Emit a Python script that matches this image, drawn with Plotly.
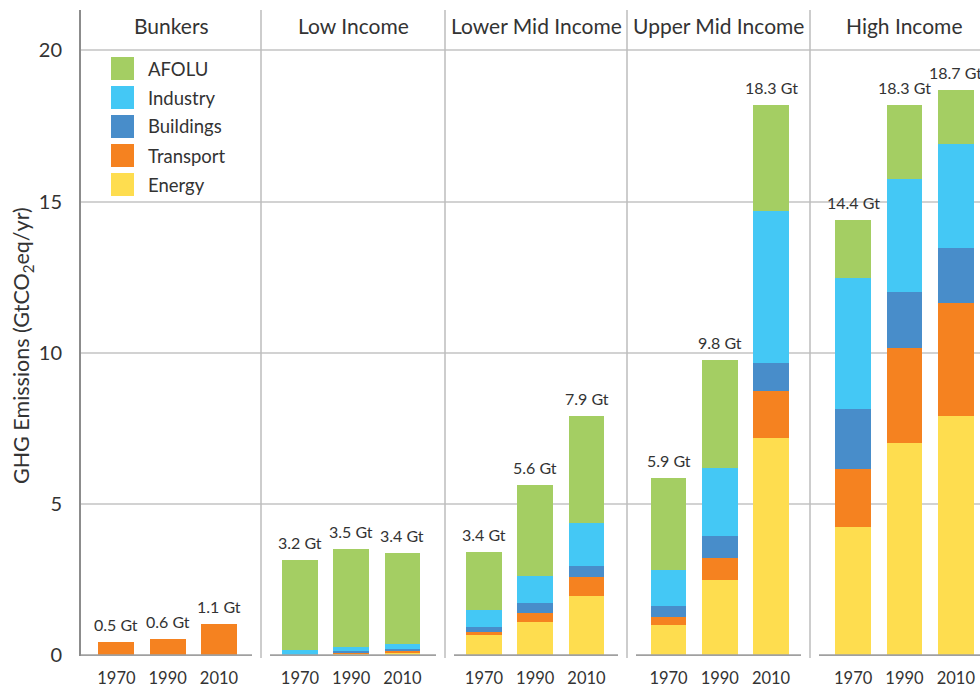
import plotly.graph_objects as go

# ---------------- data ----------------
panels = ["Bunkers", "Low Income", "Lower Mid Income", "Upper Mid Income", "High Income"]
years = ["1970", "1990", "2010"]

# values per panel (GtCO2eq/yr), each inner list = 1970, 1990, 2010
energy    = [[0.00, 0.00, 0.00], [0.02, 0.06, 0.09], [0.69, 1.12, 1.98], [1.00, 2.50, 7.19], [4.24, 7.01, 7.90]]
transport = [[0.43, 0.53, 1.03], [0.00, 0.03, 0.07], [0.10, 0.30, 0.63], [0.27, 0.72, 1.54], [1.92, 3.16, 3.76]]
buildings = [[0.00, 0.00, 0.00], [0.00, 0.05, 0.05], [0.14, 0.30, 0.36], [0.37, 0.73, 0.95], [2.00, 1.85, 1.79]]
industry  = [[0.00, 0.00, 0.00], [0.15, 0.15, 0.17], [0.56, 0.92, 1.41], [1.19, 2.23, 5.01], [4.31, 3.73, 3.46]]
afolu     = [[0.00, 0.00, 0.00], [3.00, 3.23, 3.02], [1.94, 2.98, 3.55], [3.02, 3.60, 3.50], [1.93, 2.44, 1.78]]

total_labels = [["0.5 Gt", "0.6 Gt", "1.1 Gt"],
                ["3.2 Gt", "3.5 Gt", "3.4 Gt"],
                ["3.4 Gt", "5.6 Gt", "7.9 Gt"],
                ["5.9 Gt", "9.8 Gt", "18.3 Gt"],
                ["14.4 Gt", "18.3 Gt", "18.7 Gt"]]

sector_names = ["Energy", "Transport", "Buildings", "Industry", "AFOLU"]   # bottom -> top
sector_values = [energy, transport, buildings, industry, afolu]
legend_names = ["AFOLU", "Industry", "Buildings", "Transport", "Energy"]  # top -> bottom
y_ticks = [0, 5, 10, 15, 20]
y_title = "GHG Emissions (GtCO<sub>2</sub>eq/yr)"

# ---------------- style ----------------
colors = {"AFOLU": "#A4CE63", "Industry": "#44C8F5", "Buildings": "#488DCA",
          "Transport": "#F58220", "Energy": "#FEDD4F"}
FONT = "Lato, 'Open Sans', sans-serif"
TXT = "#333333"

W, H = 980, 688
L, R, T, B = 81, 0, 10, 32
PW, PH = W - L - R, H - T - B


def px2x(px):
    return (px - L) / PW


def px2y(py):
    return (H - B - py) / PH


panel_px = [(81, 261), (261, 445), (445, 627), (627, 810), (810, 980)]
x_ranges = [[-0.69, 2.82], [-0.76, 2.83], [-0.76, 2.79], [-0.81, 2.76], [-0.84, 2.47]]
y_range = [-0.017, 21.33]

fig = go.Figure()

for i, p in enumerate(panels):
    xa = "x" if i == 0 else f"x{i+1}"
    ya = "y" if i == 0 else f"y{i+1}"
    for name, vals in zip(sector_names, sector_values):
        fig.add_trace(go.Bar(
            x=years, y=vals[i], name=name, xaxis=xa, yaxis=ya,
            marker=dict(color=colors[name], line=dict(width=0)),
            width=0.7, showlegend=False, hoverinfo="x+y+name"))

layout = dict(
    width=W, height=H, barmode="stack",
    margin=dict(l=L, r=R, t=T, b=B),
    paper_bgcolor="white", plot_bgcolor="white",
    font=dict(family=FONT, color=TXT),
    showlegend=False,
)

shapes = []
annotations = []

for i, p in enumerate(panels):
    xk = "xaxis" if i == 0 else f"xaxis{i+1}"
    yk = "yaxis" if i == 0 else f"yaxis{i+1}"
    xa = "x" if i == 0 else f"x{i+1}"
    ya = "y" if i == 0 else f"y{i+1}"
    d0, d1 = panel_px[i]
    layout[xk] = dict(
        domain=[px2x(d0), px2x(d1)], anchor=ya, type="category",
        range=x_ranges[i], showgrid=False, zeroline=False, showline=False,
        ticks="", ticklabelstandoff=10,
        tickfont=dict(family=FONT, size=16.5, color=TXT), fixedrange=True)
    layout[yk] = dict(
        domain=[0, 1], anchor=xa, range=y_range,
        tickvals=y_ticks, showgrid=True, gridcolor="#d2d2d2", gridwidth=1.5,
        zeroline=False, showticklabels=(i == 0), ticks="",
        showline=(i == 0), linecolor="#8c8c8c", linewidth=2,
        fixedrange=True)
    if i == 0:
        layout[yk].update(
            ticklabelstandoff=13,
            tickfont=dict(family=FONT, size=20, color=TXT))
    else:
        layout[yk]["matches"] = "y"

    # baseline segment
    width_px = d1 - d0
    x0 = 0 if i == 0 else 9 / width_px
    x1 = 1 - 9 / width_px if i < 4 else 1
    shapes.append(dict(type="line", xref=f"{xa} domain", yref=ya,
                       x0=x0, x1=x1, y0=0, y1=0,
                       line=dict(color="#a0a0a0", width=2.5), layer="above"))

    # panel title
    annotations.append(dict(xref="paper", yref="paper",
                            x=(px2x(d0) + px2x(d1)) / 2 if i < 4 else px2x(904),
                            y=px2y(25), text=p, showarrow=False,
                            xanchor="center", yanchor="middle",
                            font=dict(family=FONT, size=21, color=TXT)))

    # total labels (category axis -> numeric index)
    for j, yr in enumerate(years):
        tot = sum(v[i][j] for v in sector_values)
        annotations.append(dict(xref=xa, yref=ya, x=j, y=tot,
                                text=total_labels[i][j], showarrow=False,
                                xanchor="center", yanchor="bottom", yshift=6,
                                font=dict(family=FONT, size=16, color=TXT)))

# y-axis title
annotations.append(dict(xref="paper", yref="paper", x=px2x(22), y=px2y(346),
                        text=y_title, textangle=-90, showarrow=False,
                        xanchor="center", yanchor="middle",
                        font=dict(family=FONT, size=21.5, color=TXT)))

# panel separators
for sx in [261, 445, 627, 810]:
    shapes.append(dict(type="line", xref="paper", yref="paper",
                       x0=px2x(sx), x1=px2x(sx), y0=px2y(658), y1=1,
                       line=dict(color="#bdbdbd", width=1.5), layer="above"))

# legend (drawn manually)
for k, name in enumerate(legend_names):
    top = 57 + 29 * k
    shapes.append(dict(type="rect", xref="paper", yref="paper",
                       x0=px2x(111), x1=px2x(134), y0=px2y(top + 23), y1=px2y(top),
                       fillcolor=colors[name], line=dict(width=0)))
    annotations.append(dict(xref="paper", yref="paper", x=px2x(146),
                            y=px2y(top + 11.5), text=name, showarrow=False,
                            xanchor="left", yanchor="middle",
                            font=dict(family=FONT, size=18.5, color=TXT)))

layout["shapes"] = shapes
layout["annotations"] = annotations
fig.update_layout(**layout)

fig.write_html("out.html", config={"displayModeBar": False},
               post_script="document.body.style.margin='0';document.body.style.overflow='hidden';")
